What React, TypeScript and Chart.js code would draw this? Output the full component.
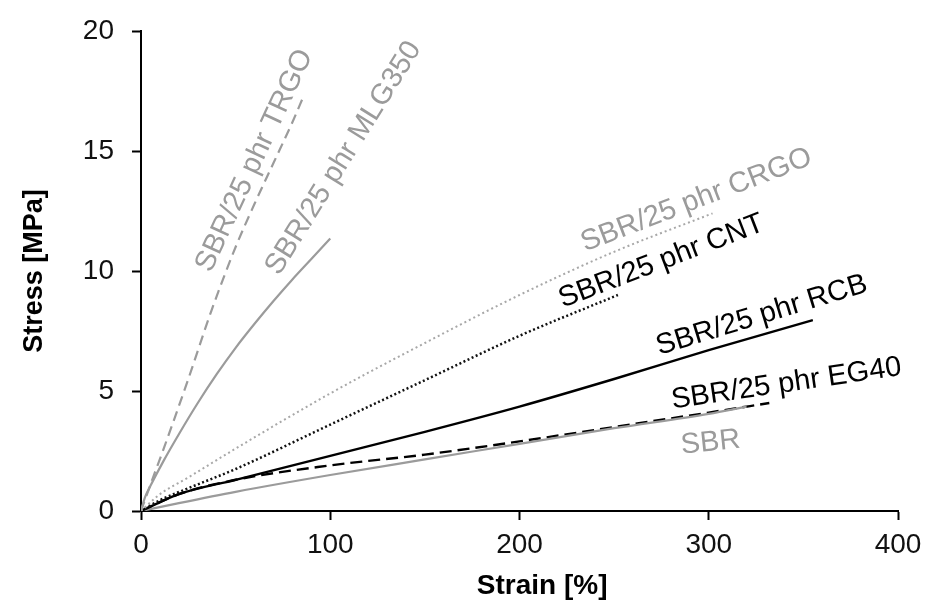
import React, { useEffect, useRef } from "react";
import { Chart, registerables } from "chart.js";

Chart.register(...registerables);

const xTicks = [0, 100, 200, 300, 400];
const yTicks = [0, 5, 10, 15, 20];

const trgoStrain = [0, 5, 12, 25, 37, 50, 60, 70, 80, 86];
const trgoStress = [0, 1.1, 2.6, 5.5, 8.3, 11.0, 12.8, 14.5, 16.2, 17.3];

const mlgStrain = [0, 2, 5, 12, 20, 30, 40, 50, 60, 70, 80, 90, 100];
const mlgStress = [0, 0.55, 1.05, 2.1, 3.2, 4.5, 5.7, 6.8, 7.8, 8.75, 9.65, 10.5, 11.35];

const crgoStrain = [0, 10, 25, 50, 100, 150, 200, 250, 302];
const crgoStress = [0, 0.7, 1.4, 2.6, 4.9, 7.0, 9.0, 10.8, 12.4];

const cntStrain = [0, 10, 25, 50, 100, 150, 200, 252];
const cntStress = [0, 0.45, 0.95, 1.75, 3.6, 5.45, 7.3, 9.0];

const rcbStrain = [0, 20, 50, 100, 150, 200, 250, 300, 355];
const rcbStress = [0, 0.7, 1.3, 2.3, 3.3, 4.35, 5.5, 6.7, 7.95];

const eg40Strain = [0, 20, 50, 100, 150, 200, 250, 300, 332];
const eg40Stress = [0, 0.7, 1.3, 1.9, 2.35, 2.9, 3.5, 4.1, 4.5];

const sbrStrain = [0, 20, 50, 100, 150, 200, 250, 300, 320];
const sbrStress = [0, 0.33, 0.8, 1.5, 2.15, 2.8, 3.45, 4.05, 4.35];

// curve labels: text, anchor (strain, stress) of text centre, angle in degrees
const labelTexts = [
  "SBR/25 phr TRGO",
  "SBR/25 phr MLG350",
  "SBR/25 phr CRGO",
  "SBR/25 phr CNT",
  "SBR/25 phr RCB",
  "SBR/25 phr EG40",
  "SBR",
];
const labelStrain = [60, 107, 293.5, 275, 328, 341, 301];
const labelStress = [14.6, 14.7, 12.95, 10.4, 8.15, 5.3, 2.85];
const labelAngle = [65, 58, 21, 21, 17, 8.3, 6];
const labelGray = [true, true, true, false, false, false, true];

const xTitle = "Strain [%]";
const xTitleAt = 212; // strain value under title centre

const GRAY = "#9b9b9b";
const LIGHT_GRAY = "#a8a8a8";
const FONT = "'Liberation Sans', Arial, Helvetica, sans-serif";

const pts = (xs: number[], ys: number[]) => xs.map((x, i) => ({ x, y: ys[i] }));

const labelPlugin = {
  id: "curveLabels",
  afterDatasetsDraw(chart: any) {
    const { ctx, scales } = chart;
    ctx.save();
    ctx.font = `29px ${FONT}`;
    ctx.textAlign = "center";
    ctx.textBaseline = "middle";
    labelTexts.forEach((t, i) => {
      const px = scales.x.getPixelForValue(labelStrain[i]);
      const py = scales.y.getPixelForValue(labelStress[i]);
      ctx.save();
      ctx.translate(px, py);
      ctx.rotate((-labelAngle[i] * Math.PI) / 180);
      ctx.fillStyle = labelGray[i] ? GRAY : "#000000";
      ctx.fillText(t, 0, 0);
      ctx.restore();
    });
    // x axis title
    ctx.font = `bold 28px ${FONT}`;
    ctx.fillStyle = "#000";
    ctx.fillText(xTitle, scales.x.getPixelForValue(xTitleAt), chart.height - 17);
    ctx.restore();
  },
};

export default function App() {
  const ref = useRef<HTMLCanvasElement>(null);

  useEffect(() => {
    document.body.style.margin = "0";
    const canvas = ref.current;
    if (!canvas) return;
    const common = {
      pointRadius: 0,
      pointHoverRadius: 0,
      fill: false,
      cubicInterpolationMode: "monotone" as const,
    };
    const chart = new Chart(canvas, {
      type: "line",
      data: {
        datasets: [
          { ...common, label: "SBR/25 phr TRGO", data: pts(trgoStrain, trgoStress), borderColor: GRAY, borderWidth: 2.2, borderDash: [10, 6] },
          { ...common, label: "SBR/25 phr MLG350", data: pts(mlgStrain, mlgStress), borderColor: GRAY, borderWidth: 2.2 },
          { ...common, label: "SBR/25 phr CRGO", data: pts(crgoStrain, crgoStress), borderColor: LIGHT_GRAY, borderWidth: 2, borderDash: [2, 3] },
          { ...common, label: "SBR/25 phr CNT", data: pts(cntStrain, cntStress), borderColor: "#111111", borderWidth: 2.5, borderDash: [2, 2.5] },
          { ...common, label: "SBR/25 phr RCB", data: pts(rcbStrain, rcbStress), borderColor: "#000000", borderWidth: 2.4 },
          { ...common, label: "SBR", data: pts(sbrStrain, sbrStress), borderColor: GRAY, borderWidth: 2.2 },
          { ...common, label: "SBR/25 phr EG40", data: pts(eg40Strain, eg40Stress), borderColor: "#000000", borderWidth: 2.4, borderDash: [12, 6] },
        ],
      },
      options: {
        responsive: false,
        animation: false,
        events: [],
        layout: { padding: { left: 0, top: 31, right: 27, bottom: 0 } },
        plugins: { legend: { display: false }, tooltip: { enabled: false } },
        scales: {
          x: {
            type: "linear",
            min: 0,
            max: 400,
            afterBuildTicks: (s: any) => { s.ticks = xTicks.map((v) => ({ value: v })); },
            afterFit: (s: any) => { s.height = 92; s.paddingLeft = 0; s.paddingRight = 0; },
            grid: { display: true, drawOnChartArea: false, drawTicks: true, tickLength: 9, tickColor: "#000", tickWidth: 2 },
            border: { display: true, color: "#000", width: 2 },
            ticks: { color: "#111", font: { family: FONT, size: 28 }, padding: 8, maxRotation: 0 },
            title: { display: false, text: xTitle },
          },
          y: {
            type: "linear",
            min: 0,
            max: 20,
            afterBuildTicks: (s: any) => { s.ticks = yTicks.map((v) => ({ value: v })); },
            afterFit: (s: any) => { s.width = 141; s.paddingTop = 0; s.paddingBottom = 0; },
            grid: { display: true, drawOnChartArea: false, drawTicks: true, tickLength: 9, tickColor: "#000", tickWidth: 2 },
            border: { display: true, color: "#000", width: 2 },
            ticks: { color: "#111", font: { family: FONT, size: 28 }, padding: 18 },
            title: {
              display: true,
              text: "Stress [MPa]",
              color: "#000",
              font: { family: FONT, size: 27, weight: "bold", lineHeight: 1.2 },
              padding: { top: 18, bottom: 0 },
            },
          },
        },
      },
      plugins: [labelPlugin],
    });
    return () => chart.destroy();
  }, []);

  return <canvas ref={ref} width={925} height={603} style={{ display: "block" }} />;
}
